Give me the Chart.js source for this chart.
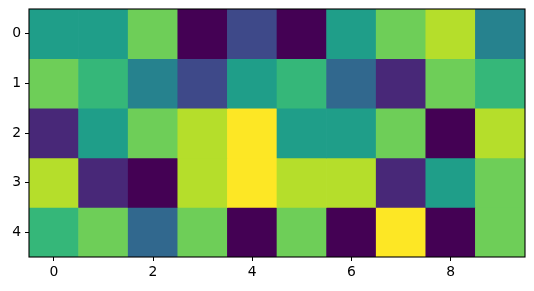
<!DOCTYPE html>
<html>
<head>
<meta charset="UTF-8">
<title>Heatmap</title>
<script src="https://cdn.jsdelivr.net/npm/chart.js@4"></script>
<style>
    html, body { margin: 0; padding: 0; background: #fff; }
    #wrap { width: 534px; height: 291px; position: relative; }
</style>
</head>
<body>
<div id="wrap"><canvas id="heat"></canvas></div>
<script>
    // cell values (0..9), one array per row, top row first
    const row0 = [5, 5, 7, 0, 2, 0, 5, 7, 8, 4];
    const row1 = [7, 6, 4, 2, 5, 6, 3, 1, 7, 6];
    const row2 = [1, 5, 7, 8, 9, 5, 5, 7, 0, 8];
    const row3 = [8, 1, 0, 8, 9, 8, 8, 1, 5, 7];
    const row4 = [6, 7, 3, 7, 0, 7, 0, 9, 0, 7];
    const rows = [row0, row1, row2, row3, row4];
    const xTicks = [0, 2, 4, 6, 8];
    const yTicks = [0, 1, 2, 3, 4];
    const vmin = 0, vmax = 9;

    // viridis at 10 evenly spaced points
    const viridis = ['#440154', '#482878', '#3e4989', '#31688e', '#26828e',
                     '#1f9e89', '#35b779', '#6ece58', '#b5de2b', '#fde725'];
    function colorFor(v) {
        const i = Math.round((v - vmin) / (vmax - vmin) * (viridis.length - 1));
        return viridis[i];
    }

    const datasets = rows.map((vals, r) => ({
        data: vals.map((v, c) => ({ x: c, y: [r - 0.5, r + 0.5] })),
        backgroundColor: vals.map(colorFor),
        borderWidth: 0,
        borderSkipped: false,
        barPercentage: 1,
        categoryPercentage: 1,
        grouped: false
    }));

    const frame = {
        id: 'frame',
        afterDraw(chart) {
            const a = chart.chartArea, ctx = chart.ctx;
            ctx.save();
            ctx.strokeStyle = '#000';
            ctx.lineWidth = 1.1;
            ctx.strokeRect(a.left, a.top, a.right - a.left, a.bottom - a.top);
            ctx.restore();
        }
    };

    const tickFont = { family: 'DejaVu Sans', size: 13.9 };

    new Chart(document.getElementById('heat'), {
        type: 'bar',
        data: { datasets: datasets },
        options: {
            responsive: true,
            maintainAspectRatio: false,
            animation: false,
            layout: { padding: { top: 9, right: 9, left: 0, bottom: 0 } },
            plugins: { legend: { display: false }, tooltip: { enabled: false } },
            scales: {
                x: {
                    type: 'linear',
                    min: -0.5,
                    max: 9.5,
                    offset: false,
                    afterBuildTicks: s => { s.ticks = xTicks.map(v => ({ value: v })); },
                    afterFit: s => { s.height = 34; s.paddingLeft = 0; s.paddingRight = 0; },
                    grid: { offset: false, drawOnChartArea: false, drawTicks: true, tickLength: 4, color: '#000' },
                    border: { display: false },
                    ticks: { color: '#000', font: tickFont, padding: 3, maxRotation: 0 }
                },
                y: {
                    type: 'linear',
                    reverse: true,
                    min: -0.5,
                    max: 4.5,
                    afterBuildTicks: s => { s.ticks = yTicks.map(v => ({ value: v })); },
                    afterFit: s => { s.width = 29; s.paddingTop = 0; s.paddingBottom = 0; },
                    grid: { offset: false, drawOnChartArea: false, drawTicks: true, tickLength: 4, color: '#000' },
                    border: { display: false },
                    ticks: { color: '#000', font: tickFont, padding: 4 }
                }
            }
        },
        plugins: [frame]
    });
</script>
</body>
</html>
